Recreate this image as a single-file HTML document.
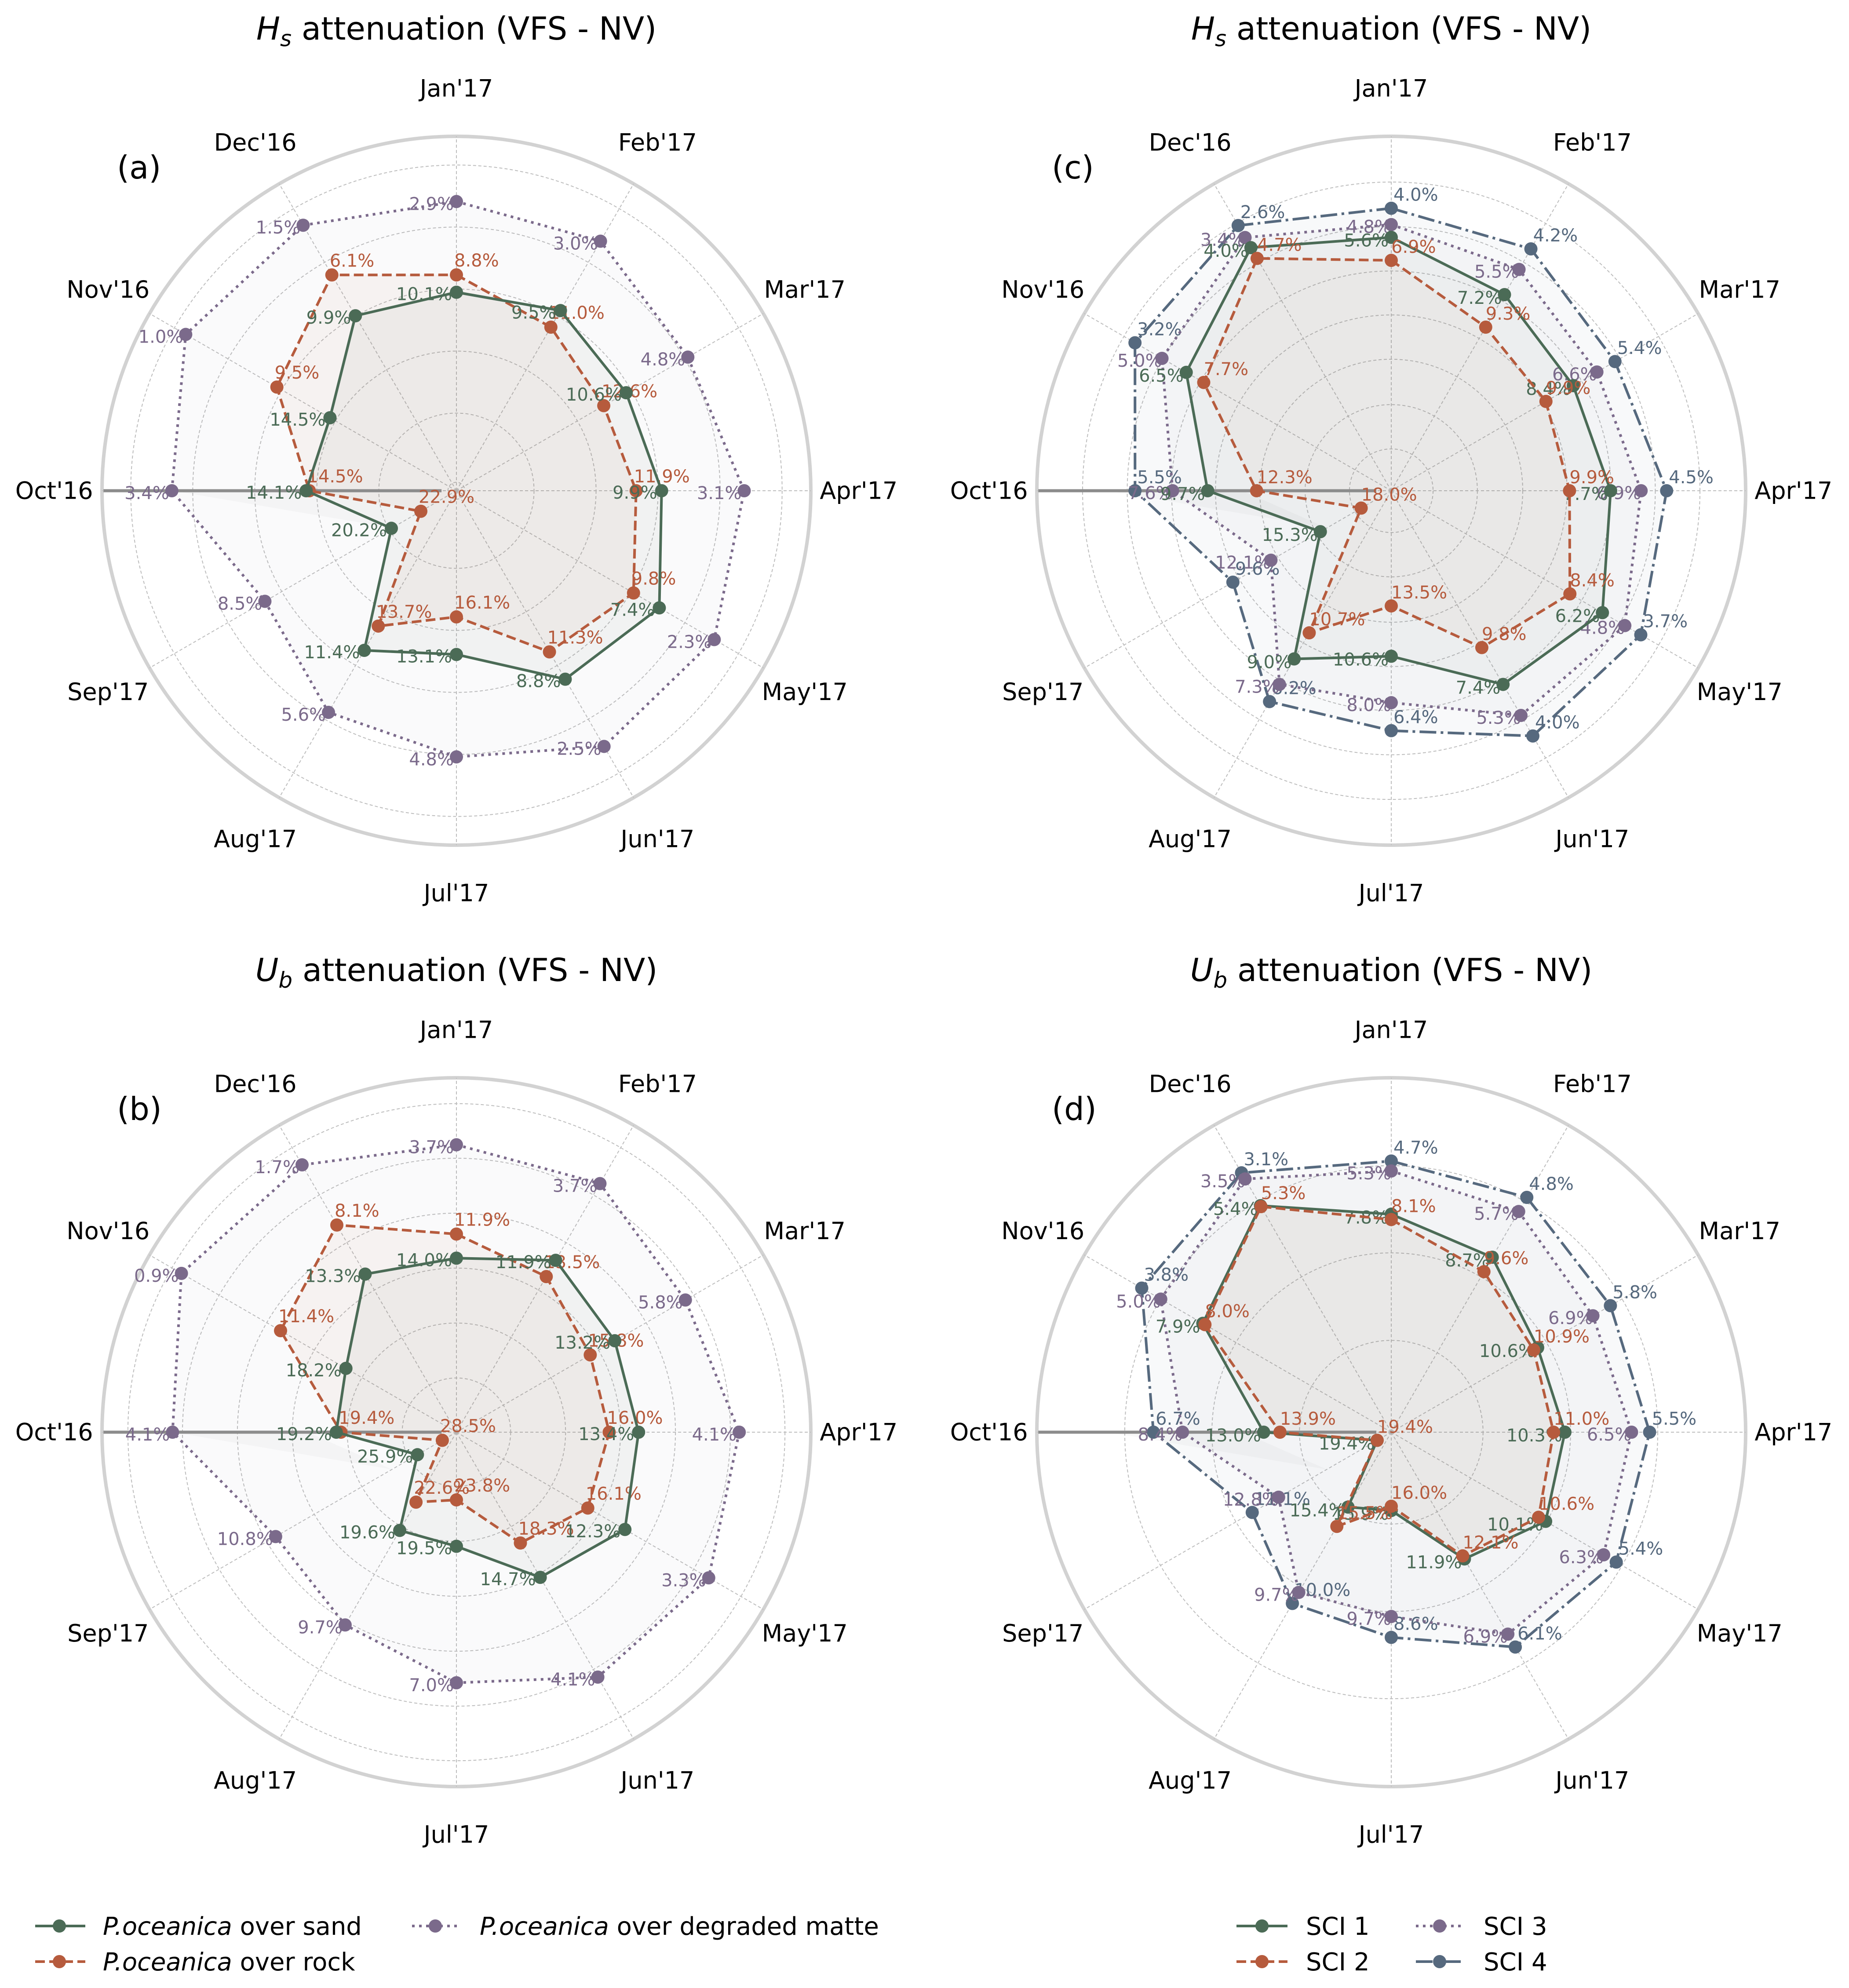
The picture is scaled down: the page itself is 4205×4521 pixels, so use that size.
<!DOCTYPE html>
<html><head><meta charset="utf-8">
<style>
html,body{margin:0;padding:0;background:#fff}
svg{display:block;font-family:"DejaVu Sans","Liberation Sans",sans-serif}
</style></head>
<body>
<svg id="fig" xmlns="http://www.w3.org/2000/svg" width="4205" height="4521" viewBox="0 0 4205 4521">
<g id="legend-left">
  <g>
    <line x1="80" y1="4380" x2="194" y2="4380" stroke="#4b6b56" stroke-width="6"/>
    <circle cx="135" cy="4380" r="15" fill="#4b6b56"/>
    <text x="234" y="4400" font-size="56"><tspan font-style="italic">P.oceanica</tspan> over sand</text>
  </g>
  <g>
    <line x1="80" y1="4461" x2="194" y2="4461" stroke="#b65b3d" stroke-width="6" stroke-dasharray="22,10"/>
    <circle cx="135" cy="4461" r="15" fill="#b65b3d"/>
    <text x="234" y="4481" font-size="56"><tspan font-style="italic">P.oceanica</tspan> over rock</text>
  </g>
  <g>
    <line x1="937" y1="4380" x2="1044" y2="4380" stroke="#7b6a8b" stroke-width="6" stroke-dasharray="6,10"/>
    <circle cx="990" cy="4380" r="15" fill="#7b6a8b"/>
    <text x="1091" y="4400" font-size="56"><tspan font-style="italic">P.oceanica</tspan> over degraded matte</text>
  </g>
</g>
<g id="legend-right">
  <g>
    <line x1="2812" y1="4380" x2="2928" y2="4380" stroke="#4b6b56" stroke-width="6"/>
    <circle cx="2870" cy="4380" r="15" fill="#4b6b56"/>
    <text x="2970" y="4400" font-size="56">SCI 1</text>
  </g>
  <g>
    <line x1="2812" y1="4461" x2="2928" y2="4461" stroke="#b65b3d" stroke-width="6" stroke-dasharray="22,10"/>
    <circle cx="2870" cy="4461" r="15" fill="#b65b3d"/>
    <text x="2970" y="4481" font-size="56">SCI 2</text>
  </g>
  <g>
    <line x1="3220" y1="4380" x2="3326" y2="4380" stroke="#7b6a8b" stroke-width="6" stroke-dasharray="6,10"/>
    <circle cx="3274" cy="4380" r="15" fill="#7b6a8b"/>
    <text x="3374" y="4400" font-size="56">SCI 3</text>
  </g>
  <g>
    <line x1="3220" y1="4461" x2="3326" y2="4461" stroke="#56697e" stroke-width="6" stroke-dasharray="38,10,6,10"/>
    <circle cx="3274" cy="4461" r="15" fill="#56697e"/>
    <text x="3374" y="4481" font-size="56">SCI 4</text>
  </g>
</g>
</svg>
<script>
const months = ["Jan'17","Feb'17","Mar'17","Apr'17","May'17","Jun'17","Jul'17","Aug'17","Sep'17","Oct'16","Nov'16","Dec'16"];

// Panel (a) Hs, substrates: plotted radial value (% of outer radius) and printed labels
const aSandR  = [56.0,58.7,55.3,57.9,66.1,61.4,46.2,52.0,21.2,42.4,41.2,57.0];
const aRockR  = [60.9,53.3,48.0,50.7,57.7,52.5,35.6,44.1,11.6,41.5,58.5,70.3];
const aMatteR = [81.6,81.3,75.4,81.2,84.0,83.3,75.1,72.2,62.4,80.3,88.2,86.5];
const aSandL  = ["10.1","9.5","10.6","9.9","7.4","8.8","13.1","11.4","20.2","14.1","14.5","9.9"];
const aRockL  = ["8.8","11.0","12.6","11.9","9.8","11.3","16.1","13.7","22.9","14.5","9.5","6.1"];
const aMatteL = ["2.9","3.0","4.8","3.1","2.3","2.5","4.8","5.6","8.5","3.4","1.0","1.5"];
const aRings  = [2.4,21.9,39.4,56.9,74.4,91.9];

// Panel (b) Ub, substrates
const bSandR  = [49.1,56.0,51.6,51.4,54.9,47.3,32.2,32.0,12.7,33.9,36.0,51.5];
const bRockR  = [55.9,50.7,43.6,43.1,42.8,36.1,19.1,22.8,4.6,32.6,57.3,67.5];
const bMatteR = [81.1,81.0,74.6,79.8,82.2,79.8,70.7,62.8,58.9,80.1,89.6,87.1];
const bSandL  = ["14.0","11.9","13.2","13.4","12.3","14.7","19.5","19.6","25.9","19.2","18.2","13.3"];
const bRockL  = ["11.9","13.5","15.8","16.0","16.1","18.3","23.8","22.6","28.5","19.4","11.4","8.1"];
const bMatteL = ["3.7","3.7","5.8","4.1","3.3","4.1","7.0","9.7","10.8","4.1","0.9","1.7"];
const bRings  = [15.3,30.8,46.3,61.8,77.3,92.7];

// Panel (c) Hs, SCI
const cS1R = [71.5,63.9,59.3,61.9,68.8,63.1,46.7,54.8,23.1,51.8,66.8,79.2];
const cS2R = [65.0,53.3,50.4,50.3,58.2,51.1,32.5,46.3,9.8,38.0,61.1,75.7];
const cS3R = [75.1,72.1,67.0,70.5,76.1,73.2,59.8,63.1,39.2,61.7,74.7,82.5];
const cS4R = [79.7,78.8,72.9,77.7,81.3,79.9,67.7,68.7,51.6,72.3,83.5,86.4];
const cS1L = ["5.6","7.2","8.4","7.7","6.2","7.4","10.6","9.0","15.3","9.7","6.5","4.0"];
const cS2L = ["6.9","9.3","9.9","9.9","8.4","9.8","13.5","10.7","18.0","12.3","7.7","4.7"];
const cS3L = ["4.8","5.5","6.6","6.9","4.8","5.3","8.0","7.3","12.1","7.6","5.0","3.4"];
const cS4L = ["4.0","4.2","5.4","4.5","3.7","4.0","6.4","6.2","9.6","5.5","3.2","2.6"];
const cRings = [11.8,24.3,37.1,49.6,62.0,74.5,87.1];

// Panel (d) Ub, SCI
const dS1R = [61.5,57.0,47.7,49.0,50.3,41.3,22.1,24.4,4.6,36.0,61.4,73.8];
const dS2R = [60.0,52.3,46.4,45.8,48.0,40.3,20.9,30.7,4.6,31.4,60.7,73.5];
const dS3R = [73.7,71.9,65.7,67.8,69.2,65.8,52.0,52.2,36.7,58.9,75.1,82.5];
const dS4R = [76.5,76.5,71.4,72.9,73.3,70.0,57.9,55.8,45.3,67.1,81.3,84.5];
const dS1L = ["7.8","8.7","10.6","10.3","10.1","11.9","15.9","15.4","19.4","13.0","7.9","5.4"];
const dS2L = ["8.1","9.6","10.9","11.0","10.6","12.1","16.0","15.5","19.4","13.9","8.0","5.3"];
const dS3L = ["5.3","5.7","6.9","6.5","6.3","6.9","9.7","9.7","12.8","8.4","5.0","3.5"];
const dS4L = ["4.7","4.8","5.8","5.5","5.4","6.1","8.6","10.0","11.1","6.7","3.8","3.1"];
const dRings = [25.9,50.6,75.2];

const C = {green:"#4b6b56", orange:"#b65b3d", purple:"#7b6a8b", slate:"#56697e"};
const R = 806;
const NS = "http://www.w3.org/2000/svg";
const svg = document.getElementById('fig');

function mk(tag, attrs, parent){
  const e = document.createElementNS(NS, tag);
  for (const k in attrs) e.setAttribute(k, attrs[k]);
  parent.appendChild(e);
  return e;
}
function angle(i){ return i*Math.PI*2/12; }
function pos(cx, cy, v, i){
  const r = v/100*R, a = angle(i);
  return [cx + r*Math.sin(a), cy - r*Math.cos(a)];
}

function panel(p){
  const g = mk('g', {}, svg);
  
  
  const cx = p.cx, cy = p.cy;
  const oc = mk('circle', {cx:cx, cy:cy, r:R, fill:'none', stroke:'#d2d2d2', 'stroke-width':8}, g);
  
  
  p.rings.forEach(v=>{
    const c = mk('circle', {cx:cx, cy:cy, r:v/100*R, fill:'none', stroke:'#bdbdbd', 'stroke-width':2, 'stroke-dasharray':'7,5'}, g);
    
    
  });
  months.forEach((m,i)=>{
    const [x2,y2] = pos(cx, cy, 100, i);
    const s = mk('line', {x1:cx, y1:cy, x2:x2, y2:y2, stroke:'#bdbdbd', 'stroke-width':2, 'stroke-dasharray':'7,5'}, g);
    
    
    const [lx,ly] = pos(cx, cy, 113.5, i);
    const t = mk('text', {x:lx, y:ly, 'font-size':54, 'text-anchor':'middle', 'dominant-baseline':'central', fill:'#000'}, g);
    t.textContent = m;
    
    
  });
  const f1 = pos(cx, cy, 80, 9), f2 = pos(cx, cy, 42, 9), f3 = pos(cx, cy, 21, 8);
  const fan = mk('polygon', {points:[f1,f2,f3].map(q=>q.join(',')).join(' '), fill:'#999', 'fill-opacity':0.06}, g);
  
  
  p.series.forEach(s=>{
    const pts = s.r.map((v,i)=>pos(cx,cy,v,i).join(',')).join(' ');
    const poly = mk('polygon', {points:pts, fill:s.color, 'fill-opacity':s.fo, stroke:'none'}, g);
    
    
  });
  const [ax1,ay1] = pos(cx, cy, 99.6, 9), [ax2,ay2] = pos(cx, cy, 4.2, 9);
  const al = mk('line', {x1:ax1, y1:ay1, x2:ax2, y2:ay2, stroke:'#8c8c8c', 'stroke-width':7}, g);
  
  
  p.series.forEach(s=>{
    const sg = mk('g', {}, g);
    
    
    const pts = s.r.map((v,i)=>pos(cx,cy,v,i).join(',')).join(' ');
    const line = mk('polygon', {points:pts, fill:'none', stroke:s.color, 'stroke-width':6, 'stroke-dasharray':s.dash, 'stroke-linejoin':'round'}, sg);
    
    
    s.r.forEach((v,i)=>{
      const [x,y] = pos(cx,cy,v,i);
      const c = mk('circle', {cx:x, cy:y, r:15, fill:s.color}, sg);
      
      
      const t = mk('text', {x:x+s.lab[1], y:y+s.lab[2], 'font-size':40, 'text-anchor':s.lab[0], 'dominant-baseline':'central', fill:s.color}, sg);
      t.textContent = s.labels[i] + '%';
      
      
    });
  });
  const title = mk('text', {x:cx, y:cy-1026, 'font-size':72, 'text-anchor':'middle', fill:'#000'}, g);
  title.innerHTML = '<tspan font-style="italic">' + p.sym[0] + '</tspan><tspan font-style="italic" font-size="50" dy="15">' + p.sym[1] + '</tspan><tspan dy="-15"> attenuation (VFS - NV)</tspan>';
  
  
  const letter = mk('text', {x:cx-772, y:cy-710, 'font-size':72, fill:'#000'}, g);
  letter.textContent = '(' + p.id + ')';
  
  
}

const subLab = {sand:['end',-10,5], rock:['start',-5,-32], matte:['end',-6,6]};
const sciLab = {s1:['end',-6,8], s2:['start',0,-30], s3:['end',0,6], s4:['start',5,-30]};

panel({id:'a', cx:1038, cy:1116, rings:aRings, sym:['H','s'], series:[
  {name:'degraded-matte', r:aMatteR, labels:aMatteL, color:C.purple, dash:'6,10', fo:0.035, lab:subLab.matte},
  {name:'rock', r:aRockR, labels:aRockL, color:C.orange, dash:'22,10', fo:0.05, lab:subLab.rock},
  {name:'sand', r:aSandR, labels:aSandL, color:C.green, dash:'none', fo:0.05, lab:subLab.sand}]});
panel({id:'b', cx:1038, cy:3257, rings:bRings, sym:['U','b'], series:[
  {name:'degraded-matte', r:bMatteR, labels:bMatteL, color:C.purple, dash:'6,10', fo:0.035, lab:subLab.matte},
  {name:'rock', r:bRockR, labels:bRockL, color:C.orange, dash:'22,10', fo:0.05, lab:subLab.rock},
  {name:'sand', r:bSandR, labels:bSandL, color:C.green, dash:'none', fo:0.05, lab:subLab.sand}]});
panel({id:'c', cx:3164, cy:1116, rings:cRings, sym:['H','s'], series:[
  {name:'sci4', r:cS4R, labels:cS4L, color:C.slate, dash:'38,10,6,10', fo:0.04, lab:sciLab.s4},
  {name:'sci3', r:cS3R, labels:cS3L, color:C.purple, dash:'6,10', fo:0.035, lab:sciLab.s3},
  {name:'sci1', r:cS1R, labels:cS1L, color:C.green, dash:'none', fo:0.04, lab:sciLab.s1},
  {name:'sci2', r:cS2R, labels:cS2L, color:C.orange, dash:'22,10', fo:0.04, lab:sciLab.s2}]});
panel({id:'d', cx:3164, cy:3257, rings:dRings, sym:['U','b'], series:[
  {name:'sci4', r:dS4R, labels:dS4L, color:C.slate, dash:'38,10,6,10', fo:0.04, lab:sciLab.s4},
  {name:'sci3', r:dS3R, labels:dS3L, color:C.purple, dash:'6,10', fo:0.035, lab:sciLab.s3},
  {name:'sci1', r:dS1R, labels:dS1L, color:C.green, dash:'none', fo:0.04, lab:sciLab.s1},
  {name:'sci2', r:dS2R, labels:dS2L, color:C.orange, dash:'22,10', fo:0.04, lab:sciLab.s2}]});
</script>
</body></html>
